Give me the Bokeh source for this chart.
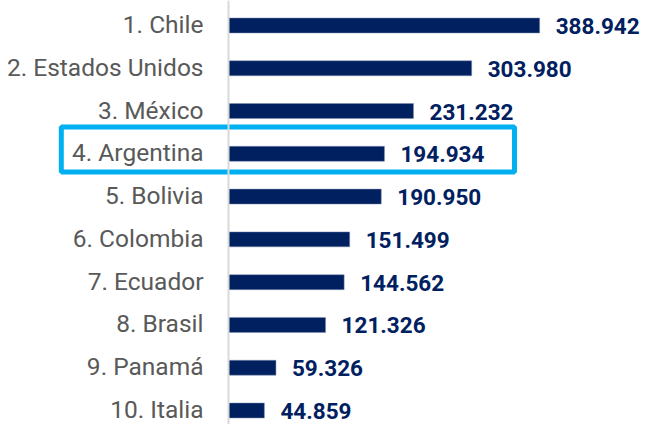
from bokeh.plotting import figure
from bokeh.models import Range1d, ColumnDataSource, Span
from bokeh.core.properties import value
from bokeh.embed import file_html
from bokeh.resources import INLINE

countries = ["1. Chile", "2. Estados Unidos", "3. México", "4. Argentina", "5. Bolivia",
             "6. Colombia", "7. Ecuador", "8. Brasil", "9. Panamá", "10. Italia"]
values = [388942, 303980, 231232, 194934, 190950, 151499, 144562, 121326, 59326, 44859]
highlight = "4. Argentina"

rank = list(range(len(countries)))
value_labels = [f"{v:,}".replace(",", ".") for v in values]

src = ColumnDataSource(dict(y=rank, v=values, name=countries, lab=value_labels, zero=[0] * len(values)))

W, H = 645, 424
p = figure(width=W, height=H, output_backend="svg", toolbar_location=None,
           x_range=Range1d(-285000, 521250), y_range=Range1d(9.327, -0.584),
           min_border=0, min_border_left=0, min_border_right=0, min_border_top=0, min_border_bottom=0)
p.axis.visible = False
p.grid.visible = False
p.outline_line_color = None
p.background_fill_color = "white"
p.border_fill_color = "white"

p.add_layout(Span(location=0, dimension="height", line_color="#d9d9d9", line_width=2))

p.hbar(y="y", left="zero", right="v", height=0.35, source=src,
       fill_color="#002060", line_color="#8090b0", line_width=0.5)

p.text(x="zero", y="y", text="name", source=src, x_offset=-25, y_offset=-1,
       text_align="right", text_baseline="middle", text_color="#595959",
       text_font=value("Roboto"), text_font_size="24.5px")

p.text(x="v", y="y", text="lab", source=src, x_offset=16, y_offset=0.5,
       text_align="left", text_baseline="middle", text_color="#002060",
       text_font=value("Roboto"), text_font_style="bold", text_font_size="22.5px")

hi = countries.index(highlight)
p.quad(left=[-209000], right=[357500], top=[hi - 0.627], bottom=[hi + 0.424],
       fill_alpha=0, line_color="#00B0F0", line_width=5)

open("out.html", "w").write(file_html(p, INLINE))
